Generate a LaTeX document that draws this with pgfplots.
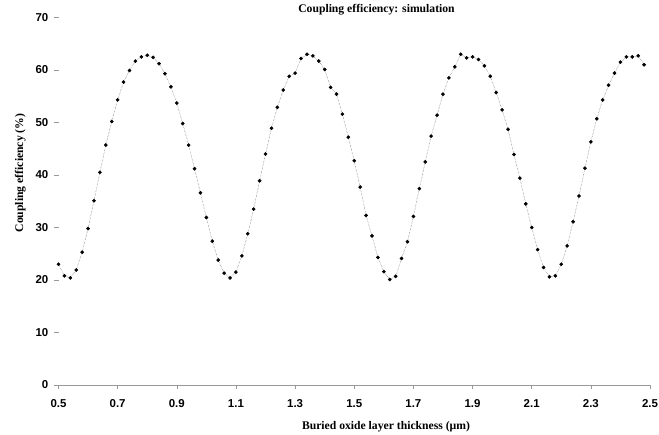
\documentclass[border=0pt]{standalone}
\usepackage{fontspec}
\setmainfont{Liberation Serif}
\setsansfont{Liberation Sans}
\usepackage{pgfplots}
\pgfplotsset{compat=1.18}
\usepackage{pgfplotstable}

% coupling efficiency vs buried oxide thickness (um)
\pgfplotstableread{
x    y
0.50 23.0
0.52 20.8
0.54 20.4
0.56 21.9
0.58 25.3
0.60 29.8
0.62 35.1
0.64 40.5
0.66 45.7
0.68 50.2
0.70 54.3
0.72 57.7
0.74 59.9
0.76 61.7
0.78 62.5
0.80 62.8
0.82 62.4
0.84 61.2
0.86 59.3
0.88 56.8
0.90 53.7
0.92 49.8
0.94 45.7
0.96 41.2
0.98 36.6
1.00 31.9
1.02 27.4
1.04 23.8
1.06 21.3
1.08 20.4
1.10 21.5
1.12 24.6
1.14 28.8
1.16 33.5
1.18 38.9
1.20 44.0
1.22 48.9
1.24 52.9
1.26 56.2
1.28 58.8
1.30 59.4
1.32 62.2
1.34 63.0
1.36 62.7
1.38 61.7
1.40 60.1
1.42 56.7
1.44 55.4
1.46 51.6
1.48 47.2
1.50 42.7
1.52 37.7
1.54 32.3
1.56 28.4
1.58 24.3
1.60 21.6
1.62 20.1
1.64 20.7
1.66 24.1
1.68 27.3
1.70 32.1
1.72 37.4
1.74 42.5
1.76 47.4
1.78 51.4
1.80 55.4
1.82 58.5
1.84 60.6
1.86 63.0
1.88 62.3
1.90 62.5
1.92 62.0
1.94 60.8
1.96 58.8
1.98 55.7
2.00 52.4
2.02 48.7
2.04 43.9
2.06 39.4
2.08 34.5
2.10 30.0
2.12 25.8
2.14 22.4
2.16 20.6
2.18 20.8
2.20 23.0
2.22 26.5
2.24 31.1
2.26 36.0
2.28 41.3
2.30 46.3
2.32 50.7
2.34 54.3
2.36 57.1
2.38 59.4
2.40 61.5
2.42 62.5
2.44 62.5
2.46 62.7
2.48 61.0
}\simdata

\begin{document}
\begin{tikzpicture}
\useasboundingbox (-58.5bp,-50bp) rectangle (600.5bp,385bp);
\begin{axis}[
  scale only axis,
  width=591.5bp, height=367.5bp,
  xmin=0.5, xmax=2.5, ymin=0, ymax=70,
  axis x line*=bottom, axis y line*=left,
  x axis line style={draw=gray!80, line width=0.6pt},
  y axis line style={draw=none},
  tick align=outside,
  major tick length=4bp,
  tick style={gray!80, line width=0.5pt},
  xtick={0.5,0.7,0.9,1.1,1.3,1.5,1.7,1.9,2.1,2.3,2.5},
  xticklabels={0.5,0.7,0.9,1.1,1.3,1.5,1.7,1.9,2.1,2.3,2.5},
  ytick={0,10,20,30,40,50,60,70},
  yticklabels={0,10,20,30,40,50,60,70},
  ticklabel style={font=\fontsize{11.5}{13}\selectfont\sffamily\bfseries},
  xticklabel style={inner sep=0pt, yshift=-10bp},
  yticklabel style={inner sep=0pt, xshift=-6bp},
  clip=false,
]
\addplot[densely dotted, gray!70!black, line width=0.45pt,
  mark=*, mark size=1.6bp, mark options={solid, fill=black, draw=black}]
  table[x=x, y=y] {\simdata};
\end{axis}
\node[anchor=base, font=\fontsize{11.7}{13}\selectfont\bfseries] at (318bp,372.7bp) {Coupling efficiency: simulation};
\node[anchor=base, font=\fontsize{11.7}{13}\selectfont\bfseries] at (327.5bp,-44bp) {Buried oxide layer thickness (µm)};
\node[anchor=base, rotate=90, font=\fontsize{11.7}{13}\selectfont\bfseries] at (-35.5bp,212bp) {Coupling efficiency (\%)};
\end{tikzpicture}
\end{document}
